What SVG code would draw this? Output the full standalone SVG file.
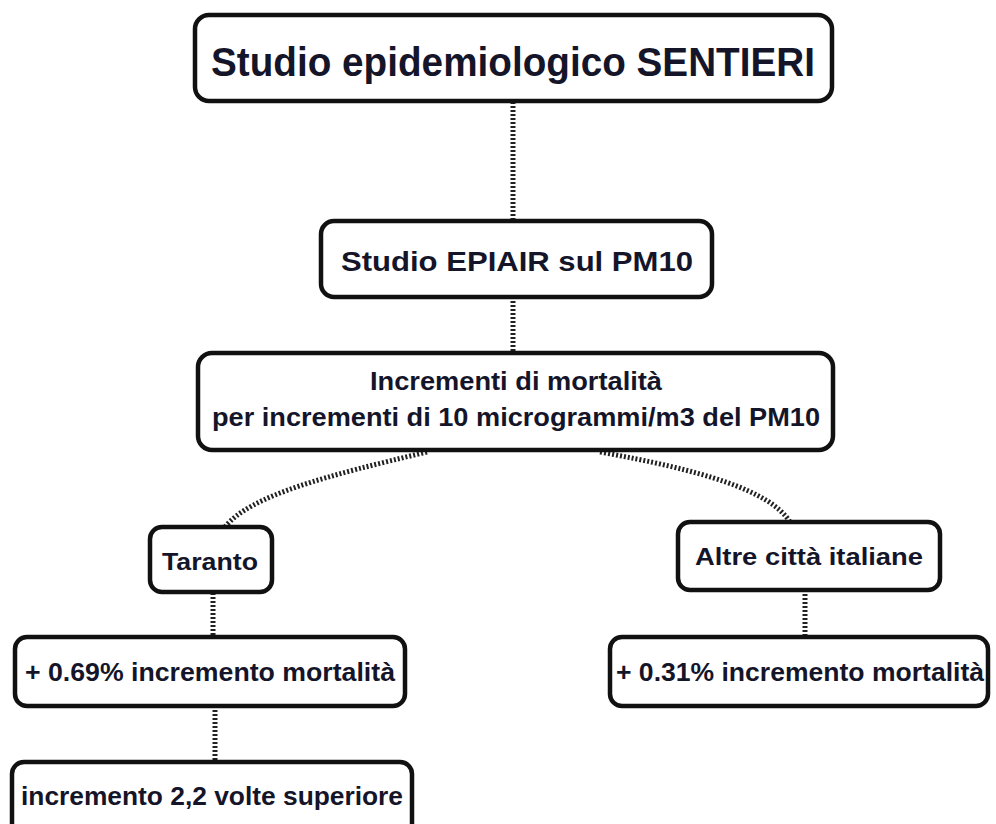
<svg xmlns="http://www.w3.org/2000/svg" width="996" height="824" viewBox="0 0 996 824">
<style>
.box{fill:#fff;stroke:#111;stroke-width:4.5}
.t{font-family:"Liberation Sans",Arial,sans-serif;font-weight:bold;fill:#15152a;text-anchor:middle}
.c{fill:none;stroke:#222;stroke-width:5;stroke-dasharray:2 2}
</style>
<rect width="996" height="824" fill="#fff"/>
<g id="connectors">
<path class="c" d="M513 102 V221"/>
<path class="c" d="M513 297 V353"/>
<path class="c" d="M427 452 C330 475 250 495 225 527"/>
<path class="c" d="M600 452 C700 470 770 490 790 522"/>
<path class="c" d="M213 593 V637"/>
<path class="c" d="M215 706 V762"/>
<path class="c" d="M805 590 V637"/>
</g>
<g id="n1"><rect class="box" x="195" y="15" width="637" height="86" rx="14"/>
<text class="t" x="513" y="76" font-size="40" textLength="604" lengthAdjust="spacingAndGlyphs">Studio epidemiologico SENTIERI</text></g>
<g id="n2"><rect class="box" x="321" y="221" width="391" height="76" rx="13"/>
<text class="t" x="517" y="271" font-size="28" textLength="352" lengthAdjust="spacingAndGlyphs">Studio EPIAIR sul PM10</text></g>
<g id="n3"><rect class="box" x="198" y="353" width="635" height="97" rx="14"/>
<text class="t" x="516" y="390" font-size="25" textLength="292" lengthAdjust="spacingAndGlyphs">Incrementi di mortalità</text>
<text class="t" x="516" y="426" font-size="25" textLength="608" lengthAdjust="spacingAndGlyphs">per incrementi di 10 microgrammi/m3 del PM10</text></g>
<g id="n4"><rect class="box" x="150" y="527" width="122" height="65" rx="12"/>
<text class="t" x="210" y="570" font-size="24" textLength="96" lengthAdjust="spacingAndGlyphs">Taranto</text></g>
<g id="n5"><rect class="box" x="678" y="522" width="262" height="68" rx="12"/>
<text class="t" x="809" y="565" font-size="24" textLength="228" lengthAdjust="spacingAndGlyphs">Altre città italiane</text></g>
<g id="n6"><rect class="box" x="15" y="637" width="390" height="69" rx="12"/>
<text class="t" x="210" y="681" font-size="25" textLength="370" lengthAdjust="spacingAndGlyphs">+ 0.69% incremento mortalità</text></g>
<g id="n7"><rect class="box" x="610" y="637" width="378" height="69" rx="12"/>
<text class="t" x="800" y="681" font-size="25" textLength="368" lengthAdjust="spacingAndGlyphs">+ 0.31% incremento mortalità</text></g>
<g id="n8"><rect class="box" x="12" y="762" width="400" height="80" rx="12"/>
<text class="t" x="212" y="805" font-size="25" textLength="382" lengthAdjust="spacingAndGlyphs">incremento 2,2 volte superiore</text></g>
</svg>
